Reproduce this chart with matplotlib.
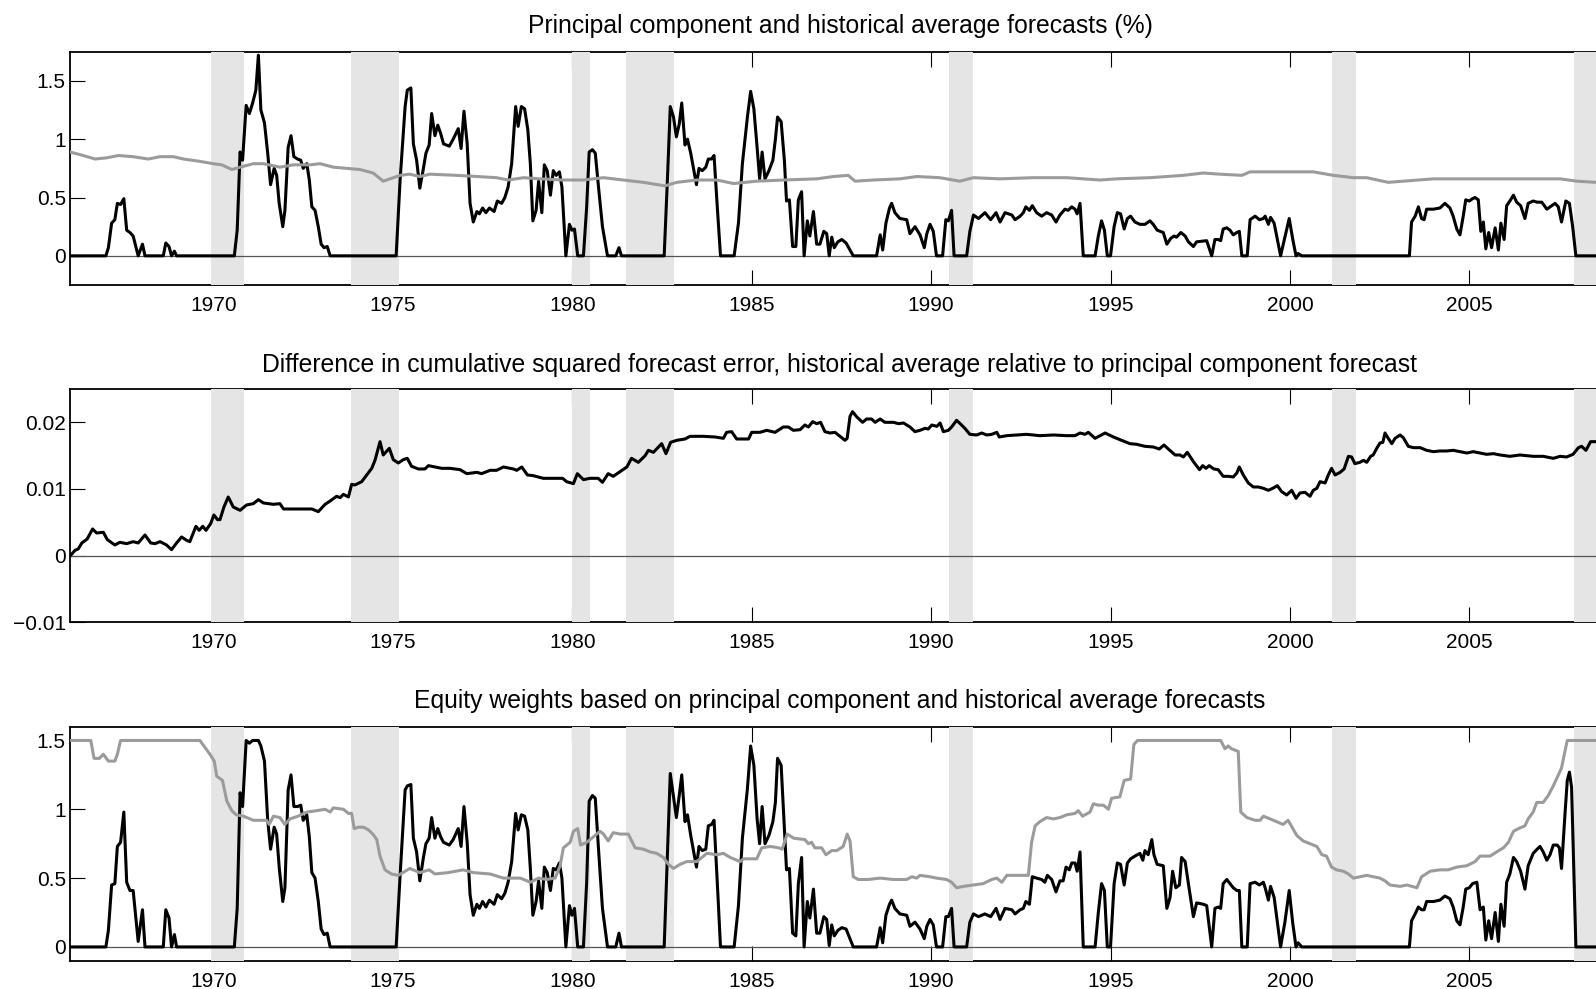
import matplotlib
matplotlib.use('Agg')
import matplotlib.pyplot as plt
import numpy as np

# --- data (decimal years, values) ---

# panel 1: principal component forecast (%)
pc_fc_t = [1966.00, 1967.00, 1967.07, 1967.16, 1967.25, 1967.32, 1967.41, 1967.50, 1967.58, 1967.67,
           1967.76, 1967.90, 1968.02, 1968.09, 1968.60, 1968.67, 1968.76, 1968.83, 1968.91, 1968.97,
           1970.58, 1970.66, 1970.74, 1970.81, 1970.91, 1971.00, 1971.09, 1971.18, 1971.25, 1971.32,
           1971.42, 1971.51, 1971.59, 1971.69, 1971.76, 1971.83, 1971.93, 1971.99, 1972.08, 1972.16,
           1972.24, 1972.34, 1972.43, 1972.50, 1972.60, 1972.67, 1972.74, 1972.83, 1972.92, 1973.00,
           1973.08, 1973.17, 1973.25, 1975.09, 1975.20, 1975.34, 1975.40, 1975.50, 1975.57, 1975.66,
           1975.75, 1975.85, 1975.92, 1976.01, 1976.08, 1976.17, 1976.25, 1976.33, 1976.41, 1976.57,
           1976.68, 1976.82, 1976.90, 1976.98, 1977.07, 1977.15, 1977.24, 1977.34, 1977.41, 1977.50,
           1977.59, 1977.69, 1977.82, 1977.91, 1978.03, 1978.12, 1978.21, 1978.31, 1978.42, 1978.49,
           1978.58, 1978.67, 1978.76, 1978.83, 1978.90, 1978.99, 1979.06, 1979.15, 1979.22, 1979.30,
           1979.39, 1979.47, 1979.55, 1979.64, 1979.71, 1979.82, 1979.92, 1979.99, 1980.06, 1980.15,
           1980.31, 1980.40, 1980.47, 1980.56, 1980.64, 1980.73, 1980.84, 1980.98, 1981.21, 1981.30,
           1981.37, 1982.56, 1982.65, 1982.73, 1982.82, 1982.90, 1982.98, 1983.05, 1983.14, 1983.21,
           1983.30, 1983.39, 1983.46, 1983.53, 1983.62, 1983.72, 1983.79, 1983.88, 1983.95, 1984.04,
           1984.13, 1984.51, 1984.63, 1984.74, 1984.88, 1984.97, 1985.06, 1985.15, 1985.22, 1985.29,
           1985.37, 1985.48, 1985.59, 1985.66, 1985.72, 1985.82, 1985.91, 1985.97, 1986.05, 1986.14,
           1986.23, 1986.30, 1986.39, 1986.46, 1986.55, 1986.62, 1986.72, 1986.81, 1986.90, 1987.01,
           1987.09, 1987.16, 1987.23, 1987.30, 1987.40, 1987.51, 1987.63, 1987.83, 1988.48, 1988.58,
           1988.65, 1988.74, 1988.84, 1988.90, 1988.99, 1989.13, 1989.32, 1989.41, 1989.55, 1989.69,
           1989.81, 1989.88, 1989.97, 1990.06, 1990.15, 1990.32, 1990.41, 1990.48, 1990.57, 1990.64,
           1990.99, 1991.08, 1991.18, 1991.32, 1991.50, 1991.66, 1991.81, 1991.92, 1992.06, 1992.25,
           1992.34, 1992.48, 1992.57, 1992.64, 1992.74, 1992.82, 1992.94, 1993.08, 1993.22, 1993.36,
           1993.48, 1993.59, 1993.73, 1993.82, 1993.92, 1994.01, 1994.07, 1994.15, 1994.24, 1994.57,
           1994.66, 1994.75, 1994.83, 1994.91, 1995.00, 1995.10, 1995.19, 1995.28, 1995.38, 1995.47,
           1995.56, 1995.68, 1995.82, 1995.96, 1996.10, 1996.19, 1996.30, 1996.47, 1996.57, 1996.68,
           1996.77, 1996.84, 1996.96, 1997.08, 1997.17, 1997.31, 1997.40, 1997.68, 1997.82, 1997.91,
           1998.00, 1998.07, 1998.14, 1998.24, 1998.33, 1998.42, 1998.52, 1998.59, 1998.66, 1998.81,
           1998.89, 1999.03, 1999.15, 1999.26, 1999.31, 1999.40, 1999.46, 1999.56, 1999.65, 1999.74,
           1999.86, 1999.98, 2000.08, 2000.17, 2000.23, 2000.33, 2003.33, 2003.39, 2003.49, 2003.58,
           2003.67, 2003.74, 2003.81, 2004.00, 2004.18, 2004.32, 2004.46, 2004.55, 2004.65, 2004.74,
           2004.83, 2004.90, 2005.00, 2005.09, 2005.16, 2005.25, 2005.32, 2005.39, 2005.46, 2005.54,
           2005.62, 2005.72, 2005.81, 2005.88, 2005.97, 2006.04, 2006.13, 2006.23, 2006.32, 2006.43,
           2006.55, 2006.64, 2006.78, 2006.89, 2007.02, 2007.16, 2007.30, 2007.39, 2007.48, 2007.57,
           2007.69, 2007.79, 2007.88, 2007.97, 2008.92]
pc_fc = [0, 0, 0.07, 0.28, 0.31, 0.45, 0.44, 0.49, 0.22, 0.20,
         0.17, 0, 0.10, 0, 0, 0.11, 0.08, 0, 0.04, 0,
         0, 0.22, 0.89, 0.82, 1.29, 1.22, 1.31, 1.42, 1.72, 1.25,
         1.14, 0.88, 0.61, 0.75, 0.69, 0.45, 0.25, 0.39, 0.93, 1.03,
         0.85, 0.83, 0.82, 0.75, 0.79, 0.65, 0.42, 0.39, 0.25, 0.10,
         0.07, 0.08, 0, 0, 0.65, 1.28, 1.42, 1.44, 0.96, 0.82,
         0.58, 0.75, 0.88, 0.95, 1.22, 1.03, 1.12, 1.05, 0.96, 0.94,
         1.00, 1.09, 0.92, 1.24, 0.96, 0.45, 0.29, 0.38, 0.36, 0.41,
         0.37, 0.41, 0.38, 0.47, 0.45, 0.50, 0.59, 0.79, 1.28, 1.11,
         1.28, 1.26, 1.08, 0.79, 0.30, 0.39, 0.64, 0.37, 0.78, 0.73,
         0.52, 0.73, 0.69, 0.72, 0.59, 0, 0.27, 0.22, 0.23, 0,
         0, 0.42, 0.89, 0.91, 0.88, 0.59, 0.25, 0, 0, 0.07,
         0, 0, 0.65, 1.28, 1.19, 1.02, 1.13, 1.31, 0.95, 1.00,
         0.88, 0.73, 0.61, 0.75, 0.73, 0.76, 0.83, 0.83, 0.86, 0.42,
         0, 0, 0.28, 0.79, 1.19, 1.41, 1.26, 0.93, 0.66, 0.89,
         0.66, 0.73, 0.82, 1.00, 1.19, 1.15, 0.82, 0.47, 0.48, 0.08,
         0.08, 0.48, 0.55, 0, 0.30, 0.17, 0.38, 0.10, 0.10, 0.21,
         0.19, 0, 0.16, 0.07, 0.12, 0.14, 0.11, 0, 0, 0.18,
         0.05, 0.28, 0.41, 0.45, 0.37, 0.32, 0.31, 0.19, 0.25, 0.18,
         0.07, 0.19, 0.27, 0.21, 0, 0, 0.31, 0.30, 0.39, 0,
         0, 0.21, 0.35, 0.32, 0.37, 0.31, 0.37, 0.29, 0.37, 0.35,
         0.31, 0.34, 0.37, 0.42, 0.39, 0.43, 0.37, 0.34, 0.37, 0.35,
         0.29, 0.35, 0.40, 0.39, 0.42, 0.40, 0.36, 0.45, 0, 0,
         0.17, 0.30, 0.22, 0, 0, 0.25, 0.37, 0.36, 0.23, 0.32,
         0.34, 0.29, 0.27, 0.27, 0.30, 0.27, 0.22, 0.20, 0.10, 0.15,
         0.17, 0.16, 0.20, 0.17, 0.12, 0.08, 0.12, 0.13, 0, 0.14,
         0.14, 0.13, 0.23, 0.24, 0.22, 0.18, 0.20, 0.21, 0, 0,
         0.31, 0.34, 0.31, 0.32, 0.34, 0.27, 0.33, 0.28, 0.14, 0,
         0.16, 0.32, 0.14, 0, 0.02, 0, 0, 0.29, 0.34, 0.42,
         0.32, 0.31, 0.40, 0.40, 0.41, 0.45, 0.41, 0.34, 0.23, 0.18,
         0.34, 0.48, 0.47, 0.49, 0.50, 0.48, 0.21, 0.29, 0.06, 0.20,
         0.07, 0.24, 0.05, 0.28, 0.14, 0.43, 0.47, 0.52, 0.46, 0.43,
         0.32, 0.45, 0.47, 0.46, 0.46, 0.40, 0.43, 0.45, 0.42, 0.29,
         0.47, 0.45, 0.25, 0, 0]

# panel 1: historical average forecast (%)
ha_fc_t = [1966.00, 1966.37, 1966.70, 1967.02, 1967.35, 1967.76, 1968.18, 1968.51, 1968.88, 1969.16,
           1969.62, 1969.99, 1970.23, 1970.51, 1970.74, 1971.11, 1971.39, 1971.85, 1972.22, 1972.69,
           1972.97, 1973.34, 1973.71, 1974.08, 1974.45, 1974.73, 1974.92, 1975.20, 1975.47, 1975.75,
           1976.03, 1976.78, 1977.34, 1977.89, 1978.21, 1978.64, 1979.10, 1979.75, 1980.31, 1980.87,
           1981.42, 1981.98, 1982.58, 1982.91, 1983.47, 1984.03, 1984.49, 1985.14, 1985.89, 1986.81,
           1987.28, 1987.69, 1987.88, 1988.39, 1989.13, 1989.60, 1990.24, 1990.80, 1991.18, 1991.92,
           1992.85, 1993.78, 1994.70, 1995.17, 1996.10, 1997.03, 1997.58, 1998.05, 1998.66, 1998.89,
           1999.35, 2000.00, 2000.65, 2001.21, 2001.77, 2002.14, 2002.74, 2003.16, 2004.00, 2004.93,
           2005.86, 2006.79, 2007.53, 2008.00, 2008.53, 2008.92]
ha_fc = [0.89, 0.86, 0.83, 0.84, 0.86, 0.85, 0.83, 0.85, 0.85, 0.83,
         0.81, 0.79, 0.78, 0.74, 0.76, 0.79, 0.79, 0.76, 0.78, 0.78,
         0.79, 0.76, 0.75, 0.74, 0.71, 0.64, 0.66, 0.69, 0.70, 0.68,
         0.70, 0.69, 0.68, 0.67, 0.65, 0.67, 0.66, 0.65, 0.65, 0.67,
         0.65, 0.63, 0.60, 0.63, 0.65, 0.65, 0.62, 0.64, 0.65, 0.66,
         0.68, 0.69, 0.64, 0.65, 0.66, 0.68, 0.67, 0.64, 0.67, 0.66,
         0.67, 0.67, 0.65, 0.66, 0.67, 0.69, 0.71, 0.70, 0.69, 0.72,
         0.72, 0.72, 0.72, 0.69, 0.67, 0.67, 0.63, 0.64, 0.66, 0.66,
         0.66, 0.66, 0.66, 0.64, 0.63, 0.63]

# panel 2: difference in cumulative squared forecast error
csfe_t = [1966.01, 1966.14, 1966.23, 1966.33, 1966.48, 1966.63, 1966.74, 1966.93, 1967.04, 1967.25,
          1967.39, 1967.58, 1967.76, 1967.90, 1968.09, 1968.25, 1968.37, 1968.51, 1968.69, 1968.83,
          1968.97, 1969.11, 1969.25, 1969.34, 1969.51, 1969.60, 1969.70, 1969.79, 1969.92, 1970.01,
          1970.11, 1970.18, 1970.29, 1970.41, 1970.55, 1970.74, 1970.92, 1971.11, 1971.25, 1971.39,
          1971.67, 1971.85, 1971.95, 1972.41, 1972.74, 1972.92, 1973.11, 1973.25, 1973.43, 1973.53,
          1973.62, 1973.76, 1973.85, 1973.94, 1974.13, 1974.27, 1974.41, 1974.50, 1974.64, 1974.73,
          1974.90, 1975.01, 1975.15, 1975.29, 1975.40, 1975.52, 1975.71, 1975.89, 1975.99, 1976.17,
          1976.36, 1976.59, 1976.87, 1977.06, 1977.34, 1977.47, 1977.71, 1977.89, 1978.08, 1978.36,
          1978.45, 1978.59, 1978.75, 1978.91, 1979.19, 1979.47, 1979.73, 1979.84, 1980.03, 1980.14,
          1980.31, 1980.49, 1980.72, 1980.84, 1981.00, 1981.14, 1981.33, 1981.52, 1981.65, 1981.84,
          1982.03, 1982.12, 1982.26, 1982.49, 1982.61, 1982.74, 1982.91, 1983.14, 1983.28, 1983.65,
          1983.98, 1984.21, 1984.30, 1984.44, 1984.58, 1984.91, 1985.00, 1985.23, 1985.42, 1985.65,
          1985.88, 1986.02, 1986.16, 1986.35, 1986.48, 1986.58, 1986.70, 1986.81, 1986.92, 1987.04,
          1987.18, 1987.32, 1987.46, 1987.60, 1987.66, 1987.74, 1987.81, 1987.93, 1988.09, 1988.20,
          1988.34, 1988.44, 1988.58, 1988.71, 1988.95, 1989.09, 1989.23, 1989.41, 1989.55, 1989.69,
          1989.83, 1989.92, 1990.02, 1990.16, 1990.25, 1990.34, 1990.48, 1990.57, 1990.71, 1990.81,
          1990.94, 1991.08, 1991.27, 1991.41, 1991.55, 1991.69, 1991.83, 1991.90, 1992.11, 1992.38,
          1992.66, 1993.03, 1993.41, 1993.78, 1994.01, 1994.15, 1994.29, 1994.38, 1994.57, 1994.71,
          1994.85, 1995.08, 1995.31, 1995.54, 1995.73, 1995.96, 1996.19, 1996.36, 1996.49, 1996.61,
          1996.80, 1996.94, 1997.03, 1997.14, 1997.31, 1997.48, 1997.57, 1997.66, 1997.75, 1997.88,
          1998.00, 1998.14, 1998.28, 1998.42, 1998.52, 1998.59, 1998.70, 1998.84, 1998.98, 1999.12,
          1999.26, 1999.40, 1999.52, 1999.65, 1999.77, 1999.91, 2000.05, 2000.17, 2000.28, 2000.42,
          2000.56, 2000.65, 2000.75, 2000.84, 2000.98, 2001.07, 2001.16, 2001.26, 2001.40, 2001.51,
          2001.63, 2001.72, 2001.81, 2001.95, 2002.05, 2002.14, 2002.25, 2002.32, 2002.42, 2002.51,
          2002.59, 2002.65, 2002.74, 2002.84, 2002.93, 2003.07, 2003.16, 2003.30, 2003.44, 2003.63,
          2003.81, 2004.00, 2004.18, 2004.37, 2004.55, 2004.74, 2004.93, 2005.11, 2005.30, 2005.48,
          2005.67, 2005.86, 2006.13, 2006.41, 2006.78, 2007.06, 2007.34, 2007.53, 2007.71, 2007.89,
          2008.04, 2008.13, 2008.25, 2008.38, 2008.53, 2008.92]
csfe = [0.0, 0.0008, 0.0010, 0.0019, 0.0025, 0.0040, 0.0034, 0.0035, 0.0024, 0.0016,
        0.0020, 0.0018, 0.0021, 0.0019, 0.0031, 0.0019, 0.0018, 0.0021, 0.0016, 0.0009,
        0.0019, 0.0028, 0.0023, 0.0021, 0.0044, 0.0038, 0.0044, 0.0038, 0.0048, 0.0061,
        0.0054, 0.0054, 0.0073, 0.0088, 0.0073, 0.0068, 0.0076, 0.0078, 0.0084, 0.0079,
        0.0077, 0.0078, 0.0070, 0.0070, 0.0070, 0.0066, 0.0077, 0.0082, 0.0089, 0.0087,
        0.0092, 0.0088, 0.0107, 0.0106, 0.0111, 0.0121, 0.0131, 0.0143, 0.0171, 0.0151,
        0.0161, 0.0144, 0.0139, 0.0144, 0.0146, 0.0134, 0.0130, 0.0130, 0.0135, 0.0133,
        0.0131, 0.0131, 0.0129, 0.0123, 0.0125, 0.0123, 0.0128, 0.0128, 0.0133, 0.0130,
        0.0128, 0.0133, 0.0121, 0.0120, 0.0116, 0.0116, 0.0116, 0.0111, 0.0108, 0.0123,
        0.0114, 0.0116, 0.0116, 0.0110, 0.0123, 0.0119, 0.0126, 0.0133, 0.0146, 0.0140,
        0.0150, 0.0158, 0.0155, 0.0168, 0.0153, 0.0170, 0.0173, 0.0175, 0.0179, 0.0179,
        0.0178, 0.0176, 0.0185, 0.0186, 0.0175, 0.0175, 0.0185, 0.0185, 0.0188, 0.0185,
        0.0193, 0.0193, 0.0188, 0.0189, 0.0196, 0.0193, 0.0201, 0.0198, 0.0200, 0.0186,
        0.0184, 0.0185, 0.0179, 0.0173, 0.0176, 0.0209, 0.0216, 0.0208, 0.0200, 0.0205,
        0.0205, 0.0200, 0.0205, 0.0200, 0.0200, 0.0198, 0.0199, 0.0193, 0.0186, 0.0188,
        0.0191, 0.0190, 0.0196, 0.0194, 0.0199, 0.0186, 0.0188, 0.0193, 0.0203, 0.0198,
        0.0191, 0.0182, 0.0181, 0.0184, 0.0181, 0.0182, 0.0185, 0.0178, 0.0180, 0.0181,
        0.0182, 0.0180, 0.0181, 0.0180, 0.0180, 0.0184, 0.0182, 0.0185, 0.0176, 0.0180,
        0.0184, 0.0178, 0.0173, 0.0168, 0.0167, 0.0164, 0.0163, 0.0160, 0.0166, 0.0160,
        0.0151, 0.0151, 0.0148, 0.0155, 0.0141, 0.0129, 0.0135, 0.0131, 0.0135, 0.0130,
        0.0129, 0.0119, 0.0119, 0.0118, 0.0124, 0.0133, 0.0121, 0.0109, 0.0103, 0.0103,
        0.0101, 0.0098, 0.0101, 0.0105, 0.0096, 0.0091, 0.0098, 0.0086, 0.0094, 0.0095,
        0.0089, 0.0098, 0.0101, 0.0111, 0.0109, 0.0121, 0.0131, 0.0121, 0.0125, 0.0130,
        0.0149, 0.0148, 0.0138, 0.0140, 0.0143, 0.0140, 0.0149, 0.0151, 0.0161, 0.0169,
        0.0170, 0.0184, 0.0176, 0.0168, 0.0176, 0.0181, 0.0177, 0.0164, 0.0162, 0.0162,
        0.0158, 0.0156, 0.0157, 0.0157, 0.0158, 0.0156, 0.0154, 0.0156, 0.0154, 0.0152,
        0.0153, 0.0151, 0.0149, 0.0151, 0.0149, 0.0149, 0.0146, 0.0149, 0.0148, 0.0152,
        0.0162, 0.0164, 0.0158, 0.0171, 0.0171, 0.0175]

# panel 3: equity weight, principal component forecast
pc_w_t = [1966.00, 1967.00, 1967.07, 1967.16, 1967.25, 1967.32, 1967.41, 1967.50, 1967.58, 1967.67,
          1967.76, 1967.90, 1968.02, 1968.09, 1968.60, 1968.67, 1968.76, 1968.83, 1968.91, 1968.97,
          1970.58, 1970.66, 1970.74, 1970.81, 1970.91, 1971.00, 1971.09, 1971.25, 1971.32, 1971.42,
          1971.51, 1971.59, 1971.69, 1971.76, 1971.83, 1971.93, 1971.99, 1972.08, 1972.16, 1972.24,
          1972.34, 1972.43, 1972.50, 1972.60, 1972.67, 1972.74, 1972.83, 1972.92, 1973.00, 1973.08,
          1973.17, 1973.25, 1975.09, 1975.20, 1975.34, 1975.40, 1975.50, 1975.57, 1975.66, 1975.75,
          1975.85, 1975.92, 1976.01, 1976.08, 1976.17, 1976.25, 1976.33, 1976.41, 1976.57, 1976.68,
          1976.82, 1976.90, 1976.98, 1977.07, 1977.15, 1977.24, 1977.34, 1977.41, 1977.50, 1977.59,
          1977.69, 1977.82, 1977.91, 1978.03, 1978.12, 1978.21, 1978.31, 1978.42, 1978.49, 1978.58,
          1978.67, 1978.76, 1978.83, 1978.90, 1978.99, 1979.06, 1979.15, 1979.22, 1979.30, 1979.39,
          1979.47, 1979.55, 1979.64, 1979.71, 1979.82, 1979.92, 1979.99, 1980.06, 1980.15, 1980.31,
          1980.40, 1980.47, 1980.56, 1980.64, 1980.73, 1980.84, 1980.98, 1981.21, 1981.30, 1981.37,
          1982.56, 1982.65, 1982.73, 1982.82, 1982.90, 1982.98, 1983.05, 1983.14, 1983.21, 1983.30,
          1983.39, 1983.46, 1983.53, 1983.62, 1983.72, 1983.79, 1983.88, 1983.95, 1984.04, 1984.13,
          1984.51, 1984.63, 1984.74, 1984.88, 1984.97, 1985.06, 1985.15, 1985.22, 1985.29, 1985.37,
          1985.48, 1985.59, 1985.66, 1985.72, 1985.82, 1985.91, 1985.97, 1986.05, 1986.14, 1986.23,
          1986.30, 1986.39, 1986.46, 1986.55, 1986.62, 1986.72, 1986.81, 1986.90, 1987.01, 1987.09,
          1987.16, 1987.23, 1987.30, 1987.40, 1987.51, 1987.63, 1987.83, 1988.48, 1988.58, 1988.65,
          1988.74, 1988.84, 1988.90, 1988.99, 1989.13, 1989.32, 1989.41, 1989.55, 1989.69, 1989.81,
          1989.88, 1989.97, 1990.06, 1990.15, 1990.32, 1990.41, 1990.48, 1990.57, 1990.64, 1990.99,
          1991.08, 1991.18, 1991.32, 1991.50, 1991.66, 1991.81, 1991.92, 1992.06, 1992.25, 1992.34,
          1992.48, 1992.57, 1992.64, 1992.74, 1992.82, 1992.94, 1993.08, 1993.17, 1993.24, 1993.36,
          1993.48, 1993.59, 1993.68, 1993.76, 1993.85, 1993.92, 1994.01, 1994.07, 1994.15, 1994.24,
          1994.57, 1994.66, 1994.75, 1994.83, 1994.91, 1995.00, 1995.10, 1995.19, 1995.28, 1995.38,
          1995.47, 1995.56, 1995.68, 1995.82, 1995.90, 1995.96, 1996.05, 1996.15, 1996.21, 1996.30,
          1996.47, 1996.57, 1996.66, 1996.73, 1996.82, 1996.92, 1996.98, 1997.08, 1997.17, 1997.31,
          1997.40, 1997.59, 1997.68, 1997.82, 1997.91, 1998.00, 1998.07, 1998.14, 1998.24, 1998.33,
          1998.42, 1998.52, 1998.59, 1998.66, 1998.81, 1998.89, 1999.03, 1999.15, 1999.26, 1999.31,
          1999.40, 1999.46, 1999.56, 1999.65, 1999.74, 1999.86, 1999.98, 2000.08, 2000.17, 2000.23,
          2000.33, 2003.33, 2003.39, 2003.49, 2003.58, 2003.67, 2003.74, 2003.81, 2004.00, 2004.18,
          2004.32, 2004.46, 2004.55, 2004.65, 2004.74, 2004.83, 2004.90, 2005.00, 2005.09, 2005.21,
          2005.30, 2005.39, 2005.46, 2005.54, 2005.62, 2005.72, 2005.81, 2005.88, 2005.97, 2006.04,
          2006.13, 2006.23, 2006.32, 2006.43, 2006.55, 2006.64, 2006.78, 2006.89, 2006.97, 2007.06,
          2007.16, 2007.25, 2007.34, 2007.45, 2007.51, 2007.57, 2007.67, 2007.73, 2007.79, 2007.85,
          2007.97, 2008.92]
pc_w = [0, 0, 0.12, 0.45, 0.46, 0.73, 0.76, 0.98, 0.47, 0.41,
        0.41, 0.04, 0.27, 0, 0, 0.27, 0.21, 0, 0.09, 0,
        0, 0.28, 1.12, 1.02, 1.50, 1.48, 1.50, 1.50, 1.46, 1.35,
        0.92, 0.71, 0.87, 0.82, 0.58, 0.33, 0.43, 1.14, 1.25, 1.02,
        1.02, 1.03, 0.92, 0.96, 0.80, 0.54, 0.50, 0.33, 0.13, 0.09,
        0.10, 0, 0, 0.52, 1.14, 1.17, 1.18, 0.79, 0.69, 0.48,
        0.65, 0.75, 0.79, 0.94, 0.79, 0.86, 0.80, 0.76, 0.74, 0.78,
        0.86, 0.73, 1.02, 0.76, 0.38, 0.23, 0.31, 0.28, 0.33, 0.29,
        0.34, 0.31, 0.38, 0.35, 0.39, 0.47, 0.62, 0.97, 0.85, 0.96,
        0.95, 0.85, 0.57, 0.23, 0.33, 0.48, 0.28, 0.58, 0.54, 0.41,
        0.57, 0.56, 0.61, 0.50, 0, 0.30, 0.23, 0.28, 0, 0,
        0.47, 1.06, 1.10, 1.08, 0.71, 0.28, 0, 0, 0.10, 0,
        0, 0.66, 1.26, 1.09, 0.94, 1.10, 1.25, 0.91, 0.96, 0.81,
        0.68, 0.58, 0.73, 0.70, 0.71, 0.88, 0.89, 0.92, 0.47, 0,
        0, 0.30, 0.79, 1.15, 1.46, 1.32, 0.93, 0.75, 1.02, 0.75,
        0.81, 0.91, 1.05, 1.37, 1.32, 0.86, 0.56, 0.57, 0.10, 0.08,
        0.46, 0.65, 0, 0.33, 0.21, 0.42, 0.10, 0.10, 0.22, 0.20,
        0.01, 0.16, 0.08, 0.12, 0.14, 0.13, 0, 0, 0.14, 0.03,
        0.23, 0.31, 0.34, 0.28, 0.24, 0.23, 0.15, 0.18, 0.13, 0.06,
        0.15, 0.20, 0.16, 0, 0, 0.22, 0.22, 0.28, 0, 0,
        0.18, 0.24, 0.22, 0.24, 0.22, 0.28, 0.20, 0.28, 0.27, 0.24,
        0.27, 0.28, 0.33, 0.31, 0.51, 0.50, 0.49, 0.47, 0.52, 0.49,
        0.40, 0.48, 0.48, 0.58, 0.56, 0.61, 0.61, 0.55, 0.69, 0,
        0, 0.25, 0.46, 0.41, 0, 0, 0.46, 0.61, 0.60, 0.45,
        0.61, 0.64, 0.66, 0.68, 0.63, 0.70, 0.67, 0.78, 0.67, 0.60,
        0.59, 0.28, 0.36, 0.55, 0.43, 0.45, 0.65, 0.62, 0.46, 0.22,
        0.32, 0.31, 0.30, 0, 0.28, 0.29, 0.28, 0.46, 0.49, 0.46,
        0.43, 0.41, 0.41, 0, 0, 0.46, 0.47, 0.45, 0.47, 0.43,
        0.34, 0.44, 0.36, 0.18, 0, 0.18, 0.41, 0.17, 0, 0.03,
        0, 0, 0.19, 0.24, 0.29, 0.27, 0.27, 0.33, 0.33, 0.34,
        0.37, 0.35, 0.29, 0.19, 0.16, 0.29, 0.42, 0.43, 0.46, 0.47,
        0.27, 0.29, 0.05, 0.19, 0.06, 0.25, 0.04, 0.31, 0.15, 0.47,
        0.53, 0.65, 0.62, 0.55, 0.42, 0.59, 0.68, 0.71, 0.73, 0.69,
        0.63, 0.67, 0.74, 0.74, 0.72, 0.57, 0.98, 1.21, 1.27, 1.16,
        0, 0]

# panel 3: equity weight, historical average forecast
ha_w_t = [1966.00, 1966.58, 1966.67, 1966.82, 1966.93, 1967.07, 1967.25, 1967.32, 1967.41, 1969.62,
          1969.76, 1969.90, 1970.02, 1970.09, 1970.25, 1970.37, 1970.51, 1970.63, 1970.83, 1971.11,
          1971.48, 1971.55, 1971.67, 1971.85, 1971.99, 1972.13, 1972.36, 1972.60, 1972.88, 1973.11,
          1973.25, 1973.34, 1973.62, 1973.76, 1973.85, 1973.92, 1974.04, 1974.18, 1974.32, 1974.44,
          1974.55, 1974.64, 1974.78, 1974.96, 1975.15, 1975.47, 1975.75, 1976.01, 1976.17, 1976.54,
          1976.96, 1977.24, 1977.71, 1978.08, 1978.55, 1978.83, 1979.06, 1979.29, 1979.52, 1979.66,
          1979.75, 1979.94, 1980.03, 1980.15, 1980.23, 1980.40, 1980.59, 1980.77, 1980.87, 1981.00,
          1981.14, 1981.33, 1981.56, 1981.75, 1981.98, 1982.17, 1982.35, 1982.54, 1982.68, 1982.82,
          1983.00, 1983.19, 1983.47, 1983.75, 1984.03, 1984.21, 1984.40, 1984.68, 1984.77, 1985.14,
          1985.28, 1985.52, 1985.75, 1985.85, 1985.99, 1986.17, 1986.48, 1986.58, 1986.67, 1986.76,
          1986.95, 1987.07, 1987.23, 1987.37, 1987.55, 1987.66, 1987.74, 1987.83, 1987.97, 1988.25,
          1988.58, 1988.95, 1989.32, 1989.46, 1989.60, 1989.69, 1989.97, 1990.15, 1990.43, 1990.57,
          1990.71, 1990.90, 1991.18, 1991.45, 1991.69, 1991.83, 1991.97, 1992.11, 1992.38, 1992.71,
          1992.80, 1992.90, 1993.03, 1993.22, 1993.41, 1993.59, 1993.78, 1994.01, 1994.10, 1994.22,
          1994.43, 1994.52, 1994.66, 1994.80, 1994.94, 1995.03, 1995.26, 1995.38, 1995.56, 1995.65,
          1995.75, 1998.07, 1998.19, 1998.28, 1998.37, 1998.56, 1998.63, 1998.80, 1999.03, 1999.17,
          1999.26, 1999.45, 1999.63, 1999.81, 1999.95, 2000.19, 2000.37, 2000.56, 2000.75, 2000.89,
          2001.02, 2001.16, 2001.30, 2001.49, 2001.63, 2001.77, 2001.95, 2002.14, 2002.33, 2002.51,
          2002.65, 2002.79, 2003.07, 2003.26, 2003.54, 2003.67, 2003.91, 2004.18, 2004.41, 2004.65,
          2004.93, 2005.16, 2005.30, 2005.58, 2005.76, 2005.95, 2006.09, 2006.23, 2006.37, 2006.55,
          2006.64, 2006.78, 2006.88, 2007.06, 2007.20, 2007.34, 2007.48, 2007.57, 2007.64, 2007.73,
          2008.92]
ha_w = [1.50, 1.50, 1.37, 1.37, 1.40, 1.35, 1.35, 1.40, 1.50, 1.50,
        1.45, 1.40, 1.35, 1.24, 1.21, 1.06, 0.99, 0.96, 0.95, 0.92,
        0.92, 0.89, 0.95, 0.94, 0.89, 0.93, 0.95, 0.98, 0.99, 1.00,
        0.98, 1.01, 1.00, 0.97, 0.97, 0.86, 0.87, 0.87, 0.85, 0.82,
        0.78, 0.66, 0.56, 0.53, 0.52, 0.57, 0.54, 0.56, 0.53, 0.54,
        0.56, 0.54, 0.53, 0.50, 0.50, 0.47, 0.50, 0.49, 0.50, 0.59,
        0.72, 0.76, 0.84, 0.86, 0.74, 0.76, 0.80, 0.84, 0.82, 0.77,
        0.83, 0.82, 0.82, 0.72, 0.71, 0.69, 0.68, 0.65, 0.60, 0.57,
        0.60, 0.62, 0.62, 0.68, 0.67, 0.68, 0.65, 0.62, 0.64, 0.64,
        0.72, 0.73, 0.72, 0.71, 0.82, 0.79, 0.78, 0.75, 0.76, 0.72,
        0.72, 0.67, 0.70, 0.70, 0.73, 0.82, 0.77, 0.51, 0.49, 0.49,
        0.50, 0.49, 0.49, 0.51, 0.50, 0.52, 0.51, 0.50, 0.49, 0.47,
        0.43, 0.44, 0.45, 0.46, 0.49, 0.50, 0.47, 0.52, 0.52, 0.52,
        0.76, 0.88, 0.91, 0.94, 0.93, 0.94, 0.96, 0.97, 0.99, 0.95,
        0.98, 1.04, 1.03, 1.03, 1.00, 1.08, 1.09, 1.21, 1.22, 1.47,
        1.50, 1.50, 1.44, 1.46, 1.44, 1.42, 0.98, 0.94, 0.92, 0.92,
        0.95, 0.93, 0.91, 0.89, 0.92, 0.81, 0.77, 0.75, 0.73, 0.67,
        0.66, 0.58, 0.56, 0.55, 0.53, 0.50, 0.51, 0.52, 0.51, 0.50,
        0.48, 0.45, 0.44, 0.45, 0.43, 0.51, 0.55, 0.56, 0.56, 0.58,
        0.59, 0.62, 0.66, 0.66, 0.69, 0.72, 0.76, 0.84, 0.86, 0.88,
        0.93, 0.98, 1.05, 1.05, 1.10, 1.17, 1.25, 1.30, 1.39, 1.50,
        1.50]

# NBER recessions
rec_start = [1969.92, 1973.84, 1980.00, 1981.50, 1990.50, 2001.17, 2007.92]
rec_end = [1970.84, 1975.17, 1980.50, 1982.84, 1991.17, 2001.84, 2009.42]

titles = ['Principal component and historical average forecasts (%)',
          'Difference in cumulative squared forecast error, historical average relative to principal component forecast',
          'Equity weights based on principal component and historical average forecasts']

plt.rcParams['font.family'] = ['Liberation Sans', 'DejaVu Sans']

W, H = 1596, 989
fig = plt.figure(figsize=(W / 100, H / 100), dpi=100)

left = 70 / W
width = 43.5 * 35.88 / W
boxes = [(51.7, 285.0), (389.0, 622.3), (726.7, 960.7)]
ylims = [(-0.25, 1.75), (-0.01, 0.025), (-0.1, 1.6)]
yticks = [[0, 0.5, 1, 1.5], [-0.01, 0, 0.01, 0.02], [0, 0.5, 1, 1.5]]
ytlabels = [['0', '0.5', '1', '1.5'], ['\u22120.01', '0', '0.01', '0.02'], ['0', '0.5', '1', '1.5']]
title_y = [26, 365, 701]

gray = '#9b9b9b'
axes = []
for i, (top, bot) in enumerate(boxes):
    ax = fig.add_axes([left, 1 - bot / H, width, (bot - top) / H])
    axes.append(ax)
    ax.set_xlim(1966, 2009.5)
    ax.set_ylim(*ylims[i])
    for s in ax.spines.values():
        s.set_linewidth(1.3)
    ax.set_xticks(range(1970, 2010, 5))
    ax.set_xticklabels([str(y) for y in range(1970, 2010, 5)])
    ax.set_yticks(yticks[i])
    ax.set_yticklabels(ytlabels[i])
    ax.tick_params(direction='in', length=11, width=0.8, labelsize=15,
                   top=True, bottom=True, left=True, right=True)
    ax.tick_params(axis='x', pad=8)
    ax.tick_params(axis='y', pad=3)
    for a, b in zip(rec_start, rec_end):
        ax.axvspan(a, b, color='#e5e5e5', lw=0, zorder=3)
    ax.axhline(0, color='#555555', lw=0.9, zorder=3.5)
    fig.text(840 / W, 1 - title_y[i] / H, titles[i], ha='center', va='center', fontsize=17.8)

axes[0].plot(pc_fc_t, pc_fc, color='black', lw=2.2, zorder=4)
axes[0].plot(ha_fc_t, ha_fc, color=gray, lw=2.2, zorder=4.5)
axes[1].plot(csfe_t, csfe, color='black', lw=2.2, zorder=4)
axes[2].plot(pc_w_t, pc_w, color='black', lw=2.2, zorder=4)
axes[2].plot(ha_w_t, ha_w, color=gray, lw=2.2, zorder=4.5)

fig.savefig('out.png', dpi=100)
